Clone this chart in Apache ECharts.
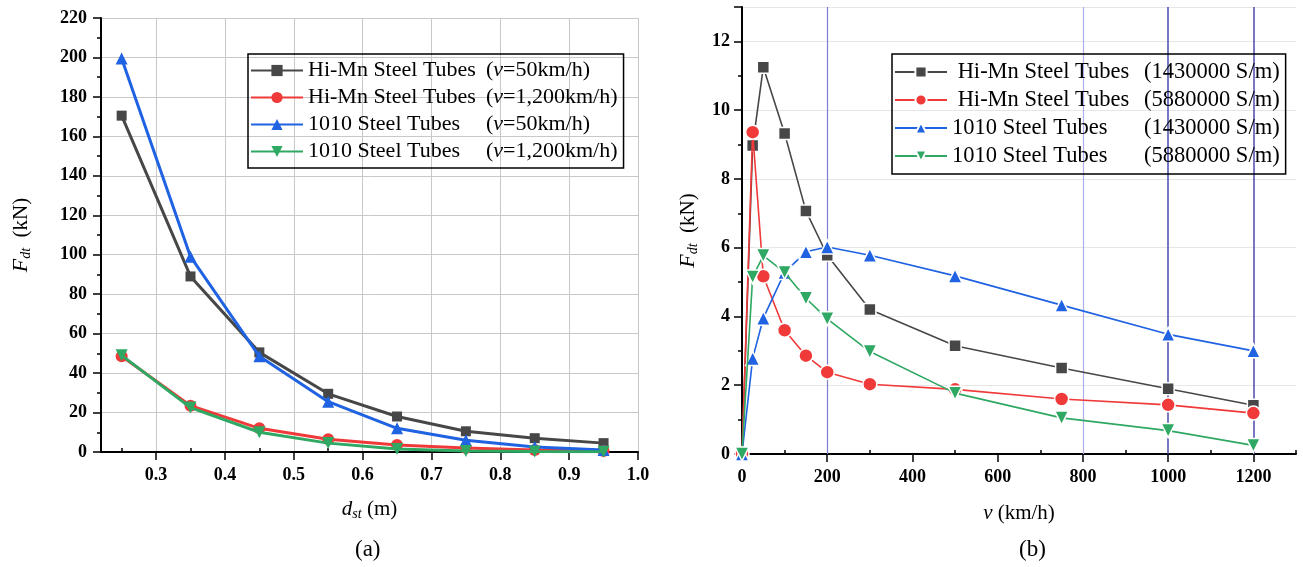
<!DOCTYPE html>
<html>
<head>
<meta charset="utf-8">
<script src="https://cdn.jsdelivr.net/npm/echarts@6/dist/echarts.min.js"></script>
<style>
  html, body { margin: 0; padding: 0; background: #fff; }
  #chart { width: 1303px; height: 567px; }
</style>
</head>
<body>
<div id="chart"></div>
<script>
// (a) force vs distance
var dst = [0.25, 0.35, 0.45, 0.55, 0.65, 0.75, 0.85, 0.95];
var hiMn50 = [170.5, 89, 50.5, 29.5, 18, 10.5, 7, 4.5];
var hiMn1200 = [48.5, 23.5, 12, 6.5, 3.5, 2, 1, 0.5];
var st1010_50 = [199.5, 99, 48.5, 25.5, 12, 6, 2.5, 1];
var st1010_1200 = [49, 22.5, 10, 4.5, 1.5, 0.5, 0.2, 0.1];

// (b) force vs speed
var speed = [0, 25, 50, 100, 150, 200, 300, 500, 750, 1000, 1200];
var hiMnLow = [0, 8.97, 11.25, 9.32, 7.07, 5.78, 4.2, 3.15, 2.5, 1.9, 1.42];
var hiMnHigh = [0, 9.36, 5.17, 3.6, 2.86, 2.38, 2.03, 1.88, 1.6, 1.43, 1.19];
var st1010Low = [0, 2.78, 3.95, 5.28, 5.88, 6.02, 5.78, 5.18, 4.33, 3.48, 3.0];
var st1010High = [0, 5.15, 5.77, 5.28, 4.53, 3.93, 2.98, 1.77, 1.05, 0.68, 0.25];

// tick values
var xMajorA = [0.3, 0.4, 0.5, 0.6, 0.7, 0.8, 0.9, 1.0];
var xMinorA = [0.25, 0.35, 0.45, 0.55, 0.65, 0.75, 0.85, 0.95];
var xMajorB = [0, 200, 400, 600, 800, 1000, 1200];
var xMinorB = [100, 300, 500, 700, 900, 1100, 1300];
var refLinesB = [200, 800, 1000, 1200];

var namesA = [
  ["Hi-Mn Steel Tubes", "50km/h"],
  ["Hi-Mn Steel Tubes", "1,200km/h"],
  ["1010 Steel Tubes", "50km/h"],
  ["1010 Steel Tubes", "1,200km/h"]
];
var namesB = [
  ["Hi-Mn Steel Tubes", "1430000 S/m"],
  ["Hi-Mn Steel Tubes", "5880000 S/m"],
  ["1010 Steel Tubes", "1430000 S/m"],
  ["1010 Steel Tubes", "5880000 S/m"]
];

var colors = ["#474747", "#f03a3a", "#1f62e2", "#2ea862"];
var symbols = ["rect", "circle", "triangle", "triangle"];
var rotates = [0, 0, 0, 180];
var serif = "Liberation Serif";

function pairs(xs, ys) {
  return xs.map(function (x, i) { return [x, ys[i]]; });
}

var labelA = namesA.map(function (n) { return n[0] + " (v=" + n[1] + ")"; });
var labelB = namesB.map(function (n) { return n[0] + " (" + n[1] + ")"; });

var axisLine = { show: true, lineStyle: { color: "#000", width: 2 } };
var tickFont = { fontFamily: serif, fontWeight: "bold", fontSize: 18, color: "#000" };

var chart = echarts.init(document.getElementById("chart"));

var seriesA = [hiMn50, hiMn1200, st1010_50, st1010_1200].map(function (vals, i) {
  return {
    name: labelA[i],
    type: "line",
    xAxisIndex: 0,
    yAxisIndex: 0,
    data: pairs(dst, vals),
    symbol: symbols[i],
    symbolRotate: rotates[i],
    symbolSize: i === 0 ? 10 : 12,
    color: colors[i],
    lineStyle: { width: 3 },
    z: 3 + i
  };
});

var seriesB = [hiMnLow, hiMnHigh, st1010Low, st1010High].map(function (vals, i) {
  return {
    name: labelB[i],
    type: "line",
    xAxisIndex: 2,
    yAxisIndex: 2,
    data: pairs(speed, vals),
    symbol: symbols[i],
    symbolRotate: rotates[i],
    symbolSize: i === 0 ? 12 : 14,
    color: colors[i],
    itemStyle: { borderColor: "#fff", borderWidth: 1.5 },
    lineStyle: { width: 1.6 },
    z: 3 + i
  };
});

// purple reference lines in (b)
seriesB[0].markLine = {
  silent: true,
  symbol: "none",
  label: { show: false },
  z: 1,
  data: refLinesB.map(function (v) {
    var dark = v >= 1000;
    return {
      xAxis: v,
      lineStyle: {
        type: "solid",
        color: dark ? "#4a4aae" : (v === 200 ? "#7c7cd4" : "#aeaee8"),
        width: dark ? 1.5 : 1.2
      }
    };
  })
};

function legendFmt() {
  return function (name) {
    var idx = labelA.indexOf(name);
    if (idx >= 0) {
      var n = namesA[idx];
      return "{a|" + n[0] + "}{b|(}{i|v}{b|=" + n[1] + ")}";
    }
    var m = namesB[labelB.indexOf(name)];
    return "{a|" + (m[0].indexOf("Hi") === 0 ? " " : "") + m[0] + "}{b|(" + m[1] + ")}";
  };
}

function legendRich(colW, size) {
  return {
    a: { width: colW, fontFamily: serif, fontSize: size, color: "#000" },
    b: { fontFamily: serif, fontSize: size, color: "#000" },
    i: { fontFamily: serif, fontSize: size, fontStyle: "italic", color: "#000" }
  };
}

var option = {
  animation: false,
  title: [
    { text: "(a)", left: 350, top: 533, textStyle: { fontFamily: serif, fontWeight: "normal", fontSize: 23, color: "#000" } },
    { text: "(b)", left: 1014, top: 533, textStyle: { fontFamily: serif, fontWeight: "normal", fontSize: 23, color: "#000" } }
  ],
  legend: [
    {
      data: labelA,
      orient: "vertical",
      left: 248,
      top: 54,
      padding: [3, 6, 3, 2],
      itemWidth: 52,
      itemHeight: 14,
      itemGap: 0,
      borderColor: "#000",
      borderWidth: 1.5,
      formatter: legendFmt(),
      textStyle: { lineHeight: 27, rich: legendRich(178, 22) }
    },
    {
      data: labelB,
      orient: "vertical",
      left: 892,
      top: 54,
      padding: [4, 6, 4, 2],
      itemWidth: 52,
      itemHeight: 14,
      itemGap: 0,
      borderColor: "#000",
      borderWidth: 1.5,
      formatter: legendFmt(),
      textStyle: { lineHeight: 28, rich: legendRich(192, 22.5) }
    }
  ],
  grid: [
    { left: 101, top: 18, width: 537, height: 434 },
    { left: 742, top: 7, width: 554, height: 447 }
  ],
  xAxis: [
    {
      gridIndex: 0,
      type: "value",
      min: 0.22,
      max: 1.0,
      axisLine: axisLine,
      axisTick: { customValues: xMajorA, length: 8, lineStyle: { color: "#000", width: 1.5 } },
      axisLabel: Object.assign({ customValues: xMajorA, margin: 14, formatter: function (v) { return v.toFixed(1); } }, tickFont),
      splitLine: { show: true, lineStyle: { color: "#c8c8c8", width: 1 } },
      name: "{d|d}{s|st} (m)",
      nameLocation: "middle",
      nameGap: 45,
      nameTextStyle: {
        fontFamily: serif, fontSize: 21, color: "#000",
        rich: {
          d: { fontFamily: serif, fontSize: 21, fontStyle: "italic", color: "#000" },
          s: { fontFamily: serif, fontSize: 14, fontStyle: "italic", color: "#000", padding: [10, 0, 0, 0] }
        }
      }
    },
    {
      gridIndex: 0,
      type: "value",
      min: 0.22,
      max: 1.0,
      axisLine: { show: false },
      axisTick: { customValues: xMinorA, length: 4, lineStyle: { color: "#000", width: 1.5 } },
      axisLabel: { show: false },
      splitLine: { show: false }
    },
    {
      gridIndex: 1,
      type: "value",
      min: 0,
      max: 1300,
      axisLine: axisLine,
      axisTick: { customValues: xMajorB, length: 8, lineStyle: { color: "#000", width: 1.5 } },
      axisLabel: Object.assign({ customValues: xMajorB, margin: 14, formatter: function (v) { return String(v); } }, tickFont),
      splitLine: { show: false },
      name: "{v|v} (km/h)",
      nameLocation: "middle",
      nameGap: 49,
      nameTextStyle: {
        fontFamily: serif, fontSize: 21, color: "#000",
        rich: { v: { fontFamily: serif, fontSize: 21, fontStyle: "italic", color: "#000" } }
      }
    },
    {
      gridIndex: 1,
      type: "value",
      min: 0,
      max: 1300,
      axisLine: { show: false },
      axisTick: { customValues: xMinorB, length: 4, lineStyle: { color: "#000", width: 1.5 } },
      axisLabel: { show: false },
      splitLine: { show: false }
    }
  ],
  yAxis: [
    {
      gridIndex: 0,
      type: "value",
      min: 0,
      max: 220,
      interval: 20,
      axisLine: axisLine,
      axisTick: { show: true, length: 8, lineStyle: { color: "#000", width: 1.5 } },
      minorTick: { show: true, splitNumber: 2, length: 4, lineStyle: { color: "#000", width: 1.5 } },
      axisLabel: Object.assign({ margin: 14 }, tickFont),
      splitLine: { show: true, lineStyle: { color: "#c8c8c8", width: 1 } },
      name: "{f|F}{s|dt}  (kN)",
      nameLocation: "middle",
      nameGap: 68,
      nameTextStyle: {
        fontFamily: serif, fontSize: 21, color: "#000",
        rich: {
          f: { fontFamily: serif, fontSize: 22, fontStyle: "italic", color: "#000" },
          s: { fontFamily: serif, fontSize: 14, fontStyle: "italic", color: "#000", padding: [10, 0, 0, 0] }
        }
      }
    },
    {
      gridIndex: 0,
      type: "value",
      min: 0,
      max: 220,
      show: false
    },
    {
      gridIndex: 1,
      type: "value",
      min: 0,
      max: 13,
      interval: 2,
      axisLine: axisLine,
      axisTick: { show: true, length: 8, lineStyle: { color: "#000", width: 1.5 } },
      minorTick: { show: true, splitNumber: 2, length: 4, lineStyle: { color: "#000", width: 1.5 } },
      axisLabel: Object.assign({ margin: 12, showMaxLabel: false }, tickFont),
      splitLine: { show: true, lineStyle: { color: "#e6e6e6", width: 1 } },
      name: "{f|F}{s|dt}  (kN)",
      nameLocation: "middle",
      nameGap: 42,
      nameTextStyle: {
        fontFamily: serif, fontSize: 21, color: "#000",
        rich: {
          f: { fontFamily: serif, fontSize: 22, fontStyle: "italic", color: "#000" },
          s: { fontFamily: serif, fontSize: 14, fontStyle: "italic", color: "#000", padding: [10, 0, 0, 0] }
        }
      }
    },
    {
      gridIndex: 1,
      type: "value",
      min: 0,
      max: 13,
      show: false
    }
  ],
  series: seriesA.concat(seriesB)
};

chart.setOption(option);
</script>
</body>
</html>
